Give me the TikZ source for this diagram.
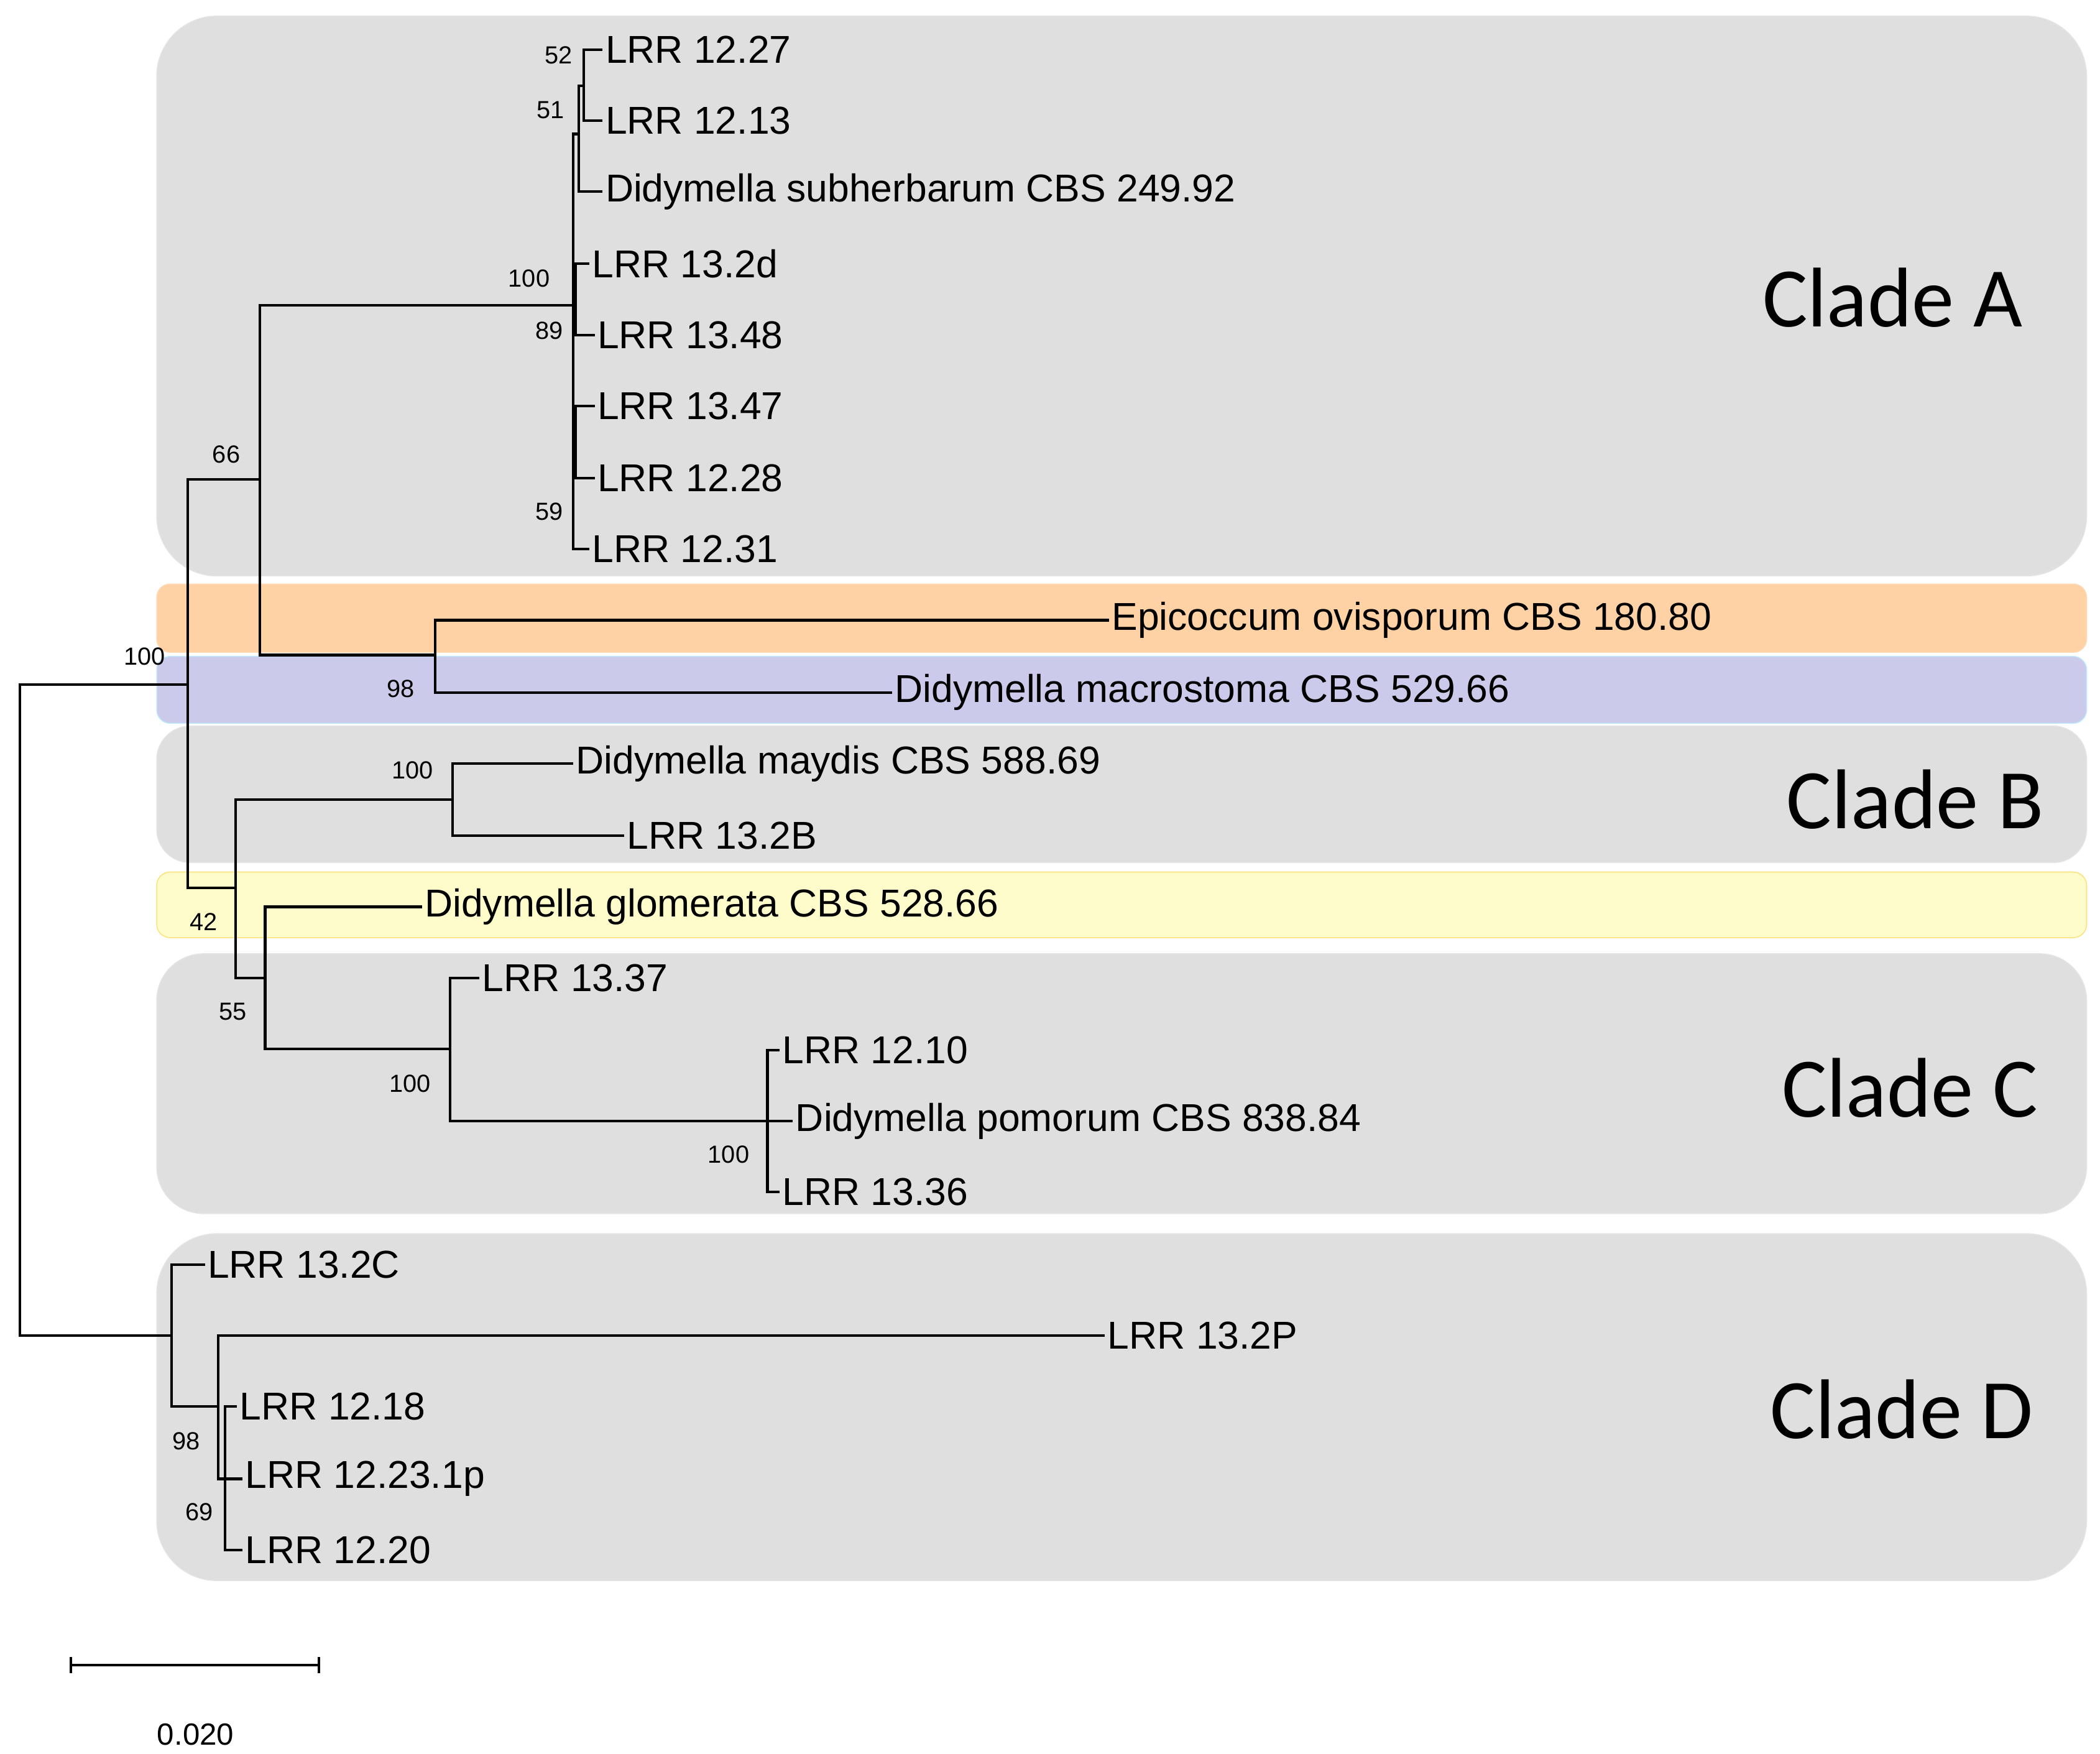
\documentclass[tikz,border=0pt]{standalone}
\usepackage{fontspec}
\setmainfont{Liberation Sans}
\newfontfamily\cladefont{Carlito}
\begin{document}
\begin{tikzpicture}[x=0.02cm,y=-0.02cm,
 bg/.style={fill=gray!25,draw=gray!20,rounded corners=0.9cm},
 leaf/.style={anchor=west,inner sep=1pt,font=\fontsize{16.5}{18}\selectfont},
 bs/.style={inner sep=1pt,font=\fontsize{10.5}{12}\selectfont},
 clade/.style={font=\cladefont\fontsize{36}{40}\selectfont},
 br/.style={line width=1.1pt}]
\useasboundingbox (0,0) rectangle (1568,1309);
% backgrounds
\fill[bg] (117,12) rectangle (1558,430);
\filldraw[fill=orange!35!white,draw=orange!30,rounded corners=0.2cm] (117,436) rectangle (1558,487);
\filldraw[fill=cyan!20!blue!20!white,draw=cyan!25,rounded corners=0.2cm] (117,490) rectangle (1558,540);
\fill[bg,rounded corners=0.5cm] (117,542) rectangle (1558,644);
\filldraw[fill=yellow!20,draw=yellow!60!orange!50,rounded corners=0.2cm] (117,651) rectangle (1558,700);
\fill[bg,rounded corners=0.7cm] (117,712) rectangle (1558,906);
\fill[bg] (117,921) rectangle (1558,1180);
\node[clade] (cA) at (1413,222) {Clade A};
\node[clade] (cB) at (1430,597) {Clade B};
\node[clade] (cC) at (1426,812) {Clade C};
\node[clade] (cD) at (1420,1052) {Clade D};
% internal node coordinates
\coordinate (root) at (15,753);
\coordinate (n100a) at (140,511);
\coordinate (n66) at (194,358);
\coordinate (nA) at (428,228);
\coordinate (nA1) at (432,100);
\coordinate (nA2) at (436,64);
\coordinate (nA3) at (430,224);
\coordinate (nA4) at (430,330);
\coordinate (n98) at (325,489);
\coordinate (n42) at (176,663);
\coordinate (nB) at (338,597);
\coordinate (n55) at (198,730);
\coordinate (nC1) at (336,783);
\coordinate (nC2) at (573,837);
\coordinate (nD) at (128,997);
\coordinate (nD98) at (163,1050);
\coordinate (nD69) at (168,1104);
% leaves
\node[leaf] (l1) at (450,37) {LRR 12.27};
\node[leaf] (l2) at (450,90) {LRR 12.13};
\node[leaf] (l3) at (450,143) {Didymella subherbarum CBS 249.92};
\node[leaf] (l4) at (440,197) {LRR 13.2d};
\node[leaf] (l5) at (444,250) {LRR 13.48};
\node[leaf] (l6) at (444,303) {LRR 13.47};
\node[leaf] (l7) at (444,357) {LRR 12.28};
\node[leaf] (l8) at (440,410) {LRR 12.31};
\node[leaf] (l9) at (828,463) {Epicoccum ovisporum CBS 180.80};
\node[leaf] (l10) at (666,517) {Didymella macrostoma CBS 529.66};
\node[leaf] (l11) at (428,570) {Didymella maydis CBS 588.69};
\node[leaf] (l12) at (466,624) {LRR 13.2B};
\node[leaf] (l13) at (315,677) {Didymella glomerata CBS 528.66};
\node[leaf] (l14) at (358,730) {LRR 13.37};
\node[leaf] (l15) at (582,784) {LRR 12.10};
\node[leaf] (l16) at (592,837) {Didymella pomorum CBS 838.84};
\node[leaf] (l17) at (582,890) {LRR 13.36};
\node[leaf] (l18) at (153,944) {LRR 13.2C};
\node[leaf] (l19) at (825,997) {LRR 13.2P};
\node[leaf] (l20) at (177,1050) {LRR 12.18};
\node[leaf] (l21) at (181,1104) {LRR 12.23.1p};
\node[leaf] (l22) at (181,1157) {LRR 12.20};
% branches
\draw[br] (root) |- (n100a); \draw[br] (root) |- (nD);
\draw[br] (n100a) |- (n66); \draw[br] (n100a) |- (n42);
\draw[br] (n66) |- (nA); \draw[br] (n66) |- (n98);
\draw[br] (nA) |- (nA1); \draw[br] (nA) |- (nA3); \draw[br] (nA) |- (nA4); \draw[br] (nA) |- (l8.west);
\draw[br] (nA1) |- (nA2); \draw[br] (nA1) |- (l3.west);
\draw[br] (nA2) |- (l1.west); \draw[br] (nA2) |- (l2.west);
\draw[br] (nA3) |- (l4.west); \draw[br] (nA3) |- (l5.west);
\draw[br] (nA4) |- (l6.west); \draw[br] (nA4) |- (l7.west);
\draw[br] (n98) |- (l9.west); \draw[br] (n98) |- (l10.west);
\draw[br] (n42) |- (nB); \draw[br] (n42) |- (n55);
\draw[br] (nB) |- (l11.west); \draw[br] (nB) |- (l12.west);
\draw[br] (n55) |- (l13.west); \draw[br] (n55) |- (nC1);
\draw[br] (nC1) |- (l14.west); \draw[br] (nC1) |- (nC2);
\draw[br] (nC2) |- (l15.west); \draw[br] (nC2) -- (l16.west); \draw[br] (nC2) |- (l17.west);
\draw[br] (nD) |- (l18.west); \draw[br] (nD) |- (nD98);
\draw[br] (nD98) |- (l19.west); \draw[br] (nD98) |- (nD69);
\draw[br] (nD69) |- (l20.west); \draw[br] (nD69) -- (l21.west); \draw[br] (nD69) |- (l22.west);
% bootstrap values
\node[bs] (b1) at (417,41) {52};
\node[bs] (b2) at (411,82) {51};
\node[bs] (b3) at (395,208) {100};
\node[bs] (b4) at (410,247) {89};
\node[bs] (b5) at (410,382) {59};
\node[bs] (b6) at (169,339) {66};
\node[bs] (b7) at (108,490) {100};
\node[bs] (b8) at (299,514) {98};
\node[bs] (b9) at (308,575) {100};
\node[bs] (b10) at (152,688) {42};
\node[bs] (b11) at (174,755) {55};
\node[bs] (b12) at (306,809) {100};
\node[bs] (b13) at (544,862) {100};
\node[bs] (b14) at (139,1076) {98};
\node[bs] (b15) at (149,1129) {69};
% scale bar
\coordinate (s1) at (53,1243); \coordinate (s2) at (238,1243);
\draw[br] (s1) -- (s2);
\draw[br] ([yshift=-0.12cm]s1) -- ([yshift=0.12cm]s1);
\draw[br] ([yshift=-0.12cm]s2) -- ([yshift=0.12cm]s2);
\node[bs,font=\fontsize{13}{15}\selectfont] (sl) at (146,1295) {0.020};
\end{tikzpicture}
\end{document}
